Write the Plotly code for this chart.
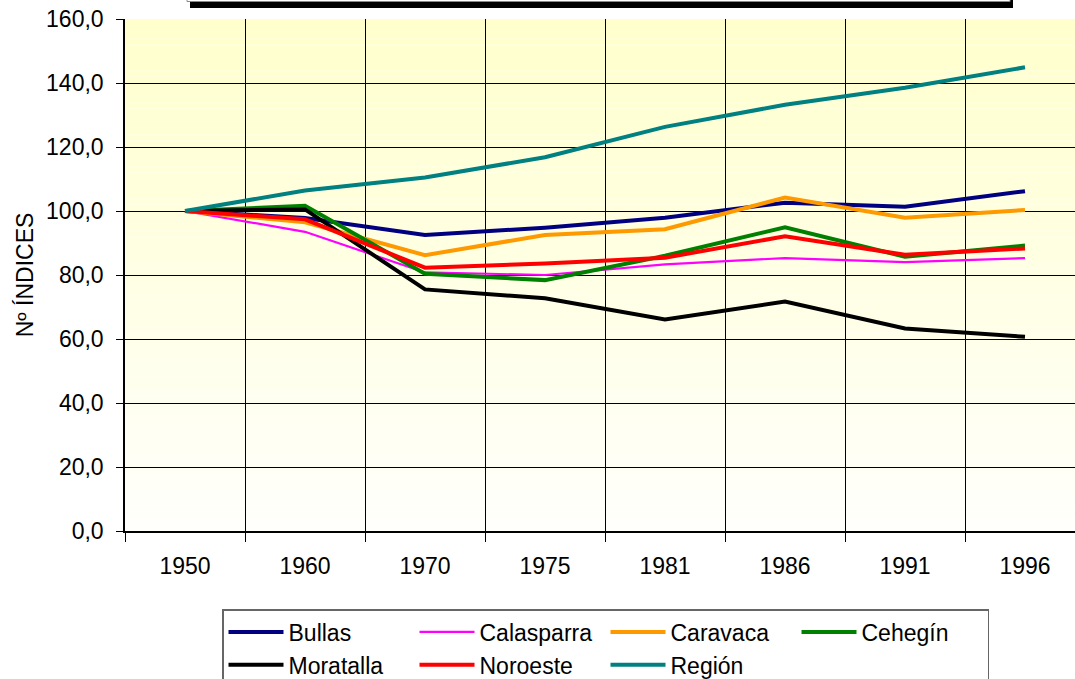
import plotly.graph_objects as go

years = ["1950", "1960", "1970", "1975", "1981", "1986", "1991", "1996"]
bullas = [100.0, 97.8, 92.5, 94.8, 97.9, 102.6, 101.3, 106.2]
calasparra = [100.0, 93.5, 80.8, 80.0, 83.3, 85.3, 84.0, 85.3]
caravaca = [100.0, 96.5, 86.2, 92.5, 94.3, 104.2, 97.9, 100.3]
cehegin = [100.0, 101.6, 80.4, 78.4, 86.0, 94.9, 85.7, 89.2]
moratalla = [100.0, 100.5, 75.5, 72.7, 66.1, 71.7, 63.3, 60.7]
noroeste = [100.0, 97.4, 82.3, 83.6, 85.4, 92.1, 86.3, 88.3]
region = [100.0, 106.4, 110.5, 116.8, 126.3, 133.2, 138.5, 144.9]

series_names = ["Bullas", "Calasparra", "Caravaca", "Cehegín", "Moratalla", "Noroeste", "Región"]
series_values = [bullas, calasparra, caravaca, cehegin, moratalla, noroeste, region]
series_colors = ["#000080", "#FF00FF", "#FF9900", "#008000", "#000000", "#FF0000", "#008080"]
series_widths = [4, 2.2, 4, 4, 4, 4, 4]

W, H = 1075, 679
L, R, T, B = 125, 0, 19, 148
PW = W - L - R
PH = H - T - B
FS = 23

fig = go.Figure()
for name, vals, col, w in zip(series_names, series_values, series_colors, series_widths):
    fig.add_trace(go.Scatter(x=years, y=vals, mode="lines", name=name,
                             line=dict(color=col, width=w)))

# gradient background (yellow at top -> near white at bottom)
shapes = []
N = 80
top = (255, 255, 204)
bot = (255, 255, 252)
for i in range(N):
    f = (i + 0.5) / N
    c = tuple(round(bot[k] + (top[k] - bot[k]) * f) for k in range(3))
    shapes.append(dict(type="rect", xref="paper", yref="y", x0=0, x1=1,
                       y0=160 * i / N, y1=160 * (i + 1) / N,
                       fillcolor="rgb(%d,%d,%d)" % c, line=dict(width=0), layer="below"))

def px(x):
    return (x - L) / PW

def py(y):
    return (H - B - y) / PH

# title box remnant at the top (shadow + box)
shapes.append(dict(type="rect", xref="paper", yref="paper", x0=px(190), x1=px(1013),
                   y0=py(8), y1=py(-40), fillcolor="black", line=dict(width=0), layer="above"))
shapes.append(dict(type="rect", xref="paper", yref="paper", x0=px(187), x1=px(1010),
                   y0=py(1.5), y1=py(-40), fillcolor="white", line=dict(color="#888", width=1), layer="above"))

fig.update_layout(
    width=W, height=H,
    margin=dict(l=L, r=R, t=T, b=B, pad=0, autoexpand=False),
    paper_bgcolor="white",
    plot_bgcolor="white",
    separators=",.",
    font=dict(family="Liberation Sans, Arial, sans-serif", size=FS, color="black"),
    shapes=shapes,
    showlegend=True,
    legend=dict(orientation="h", x=px(222), y=py(609), xanchor="left", yanchor="top",
                bgcolor="white", bordercolor="#666", borderwidth=1.5,
                font=dict(size=FS), entrywidth=121, entrywidthmode="pixels",
                itemwidth=55, tracegroupgap=0, traceorder="normal"),
)

fig.update_xaxes(
    type="category", range=[-0.5, -0.5 + PW / 120.0], automargin=False,
    tickson="boundaries", ticks="outside", ticklen=9, tickcolor="black", tickwidth=1,
    showgrid=True, gridcolor="black", gridwidth=1,
    showline=True, linecolor="black", linewidth=1.5,
    ticklabelstandoff=14, tickfont=dict(size=FS),
    zeroline=False, fixedrange=True,
)
fig.update_yaxes(
    range=[0, 160], dtick=20, tickformat=".1f", automargin=False,
    ticks="outside", ticklen=7, tickcolor="black", tickwidth=1,
    showgrid=True, gridcolor="black", gridwidth=1,
    showline=True, linecolor="black", linewidth=1.5,
    zeroline=False, ticklabelstandoff=8, tickfont=dict(size=FS),
    title=dict(text="Nº ÍNDICES", font=dict(size=FS), standoff=6),
)

fig.write_html("out.html", config={"displayModeBar": False},
               post_script="document.body.style.margin='0';document.body.style.overflow='hidden';")
